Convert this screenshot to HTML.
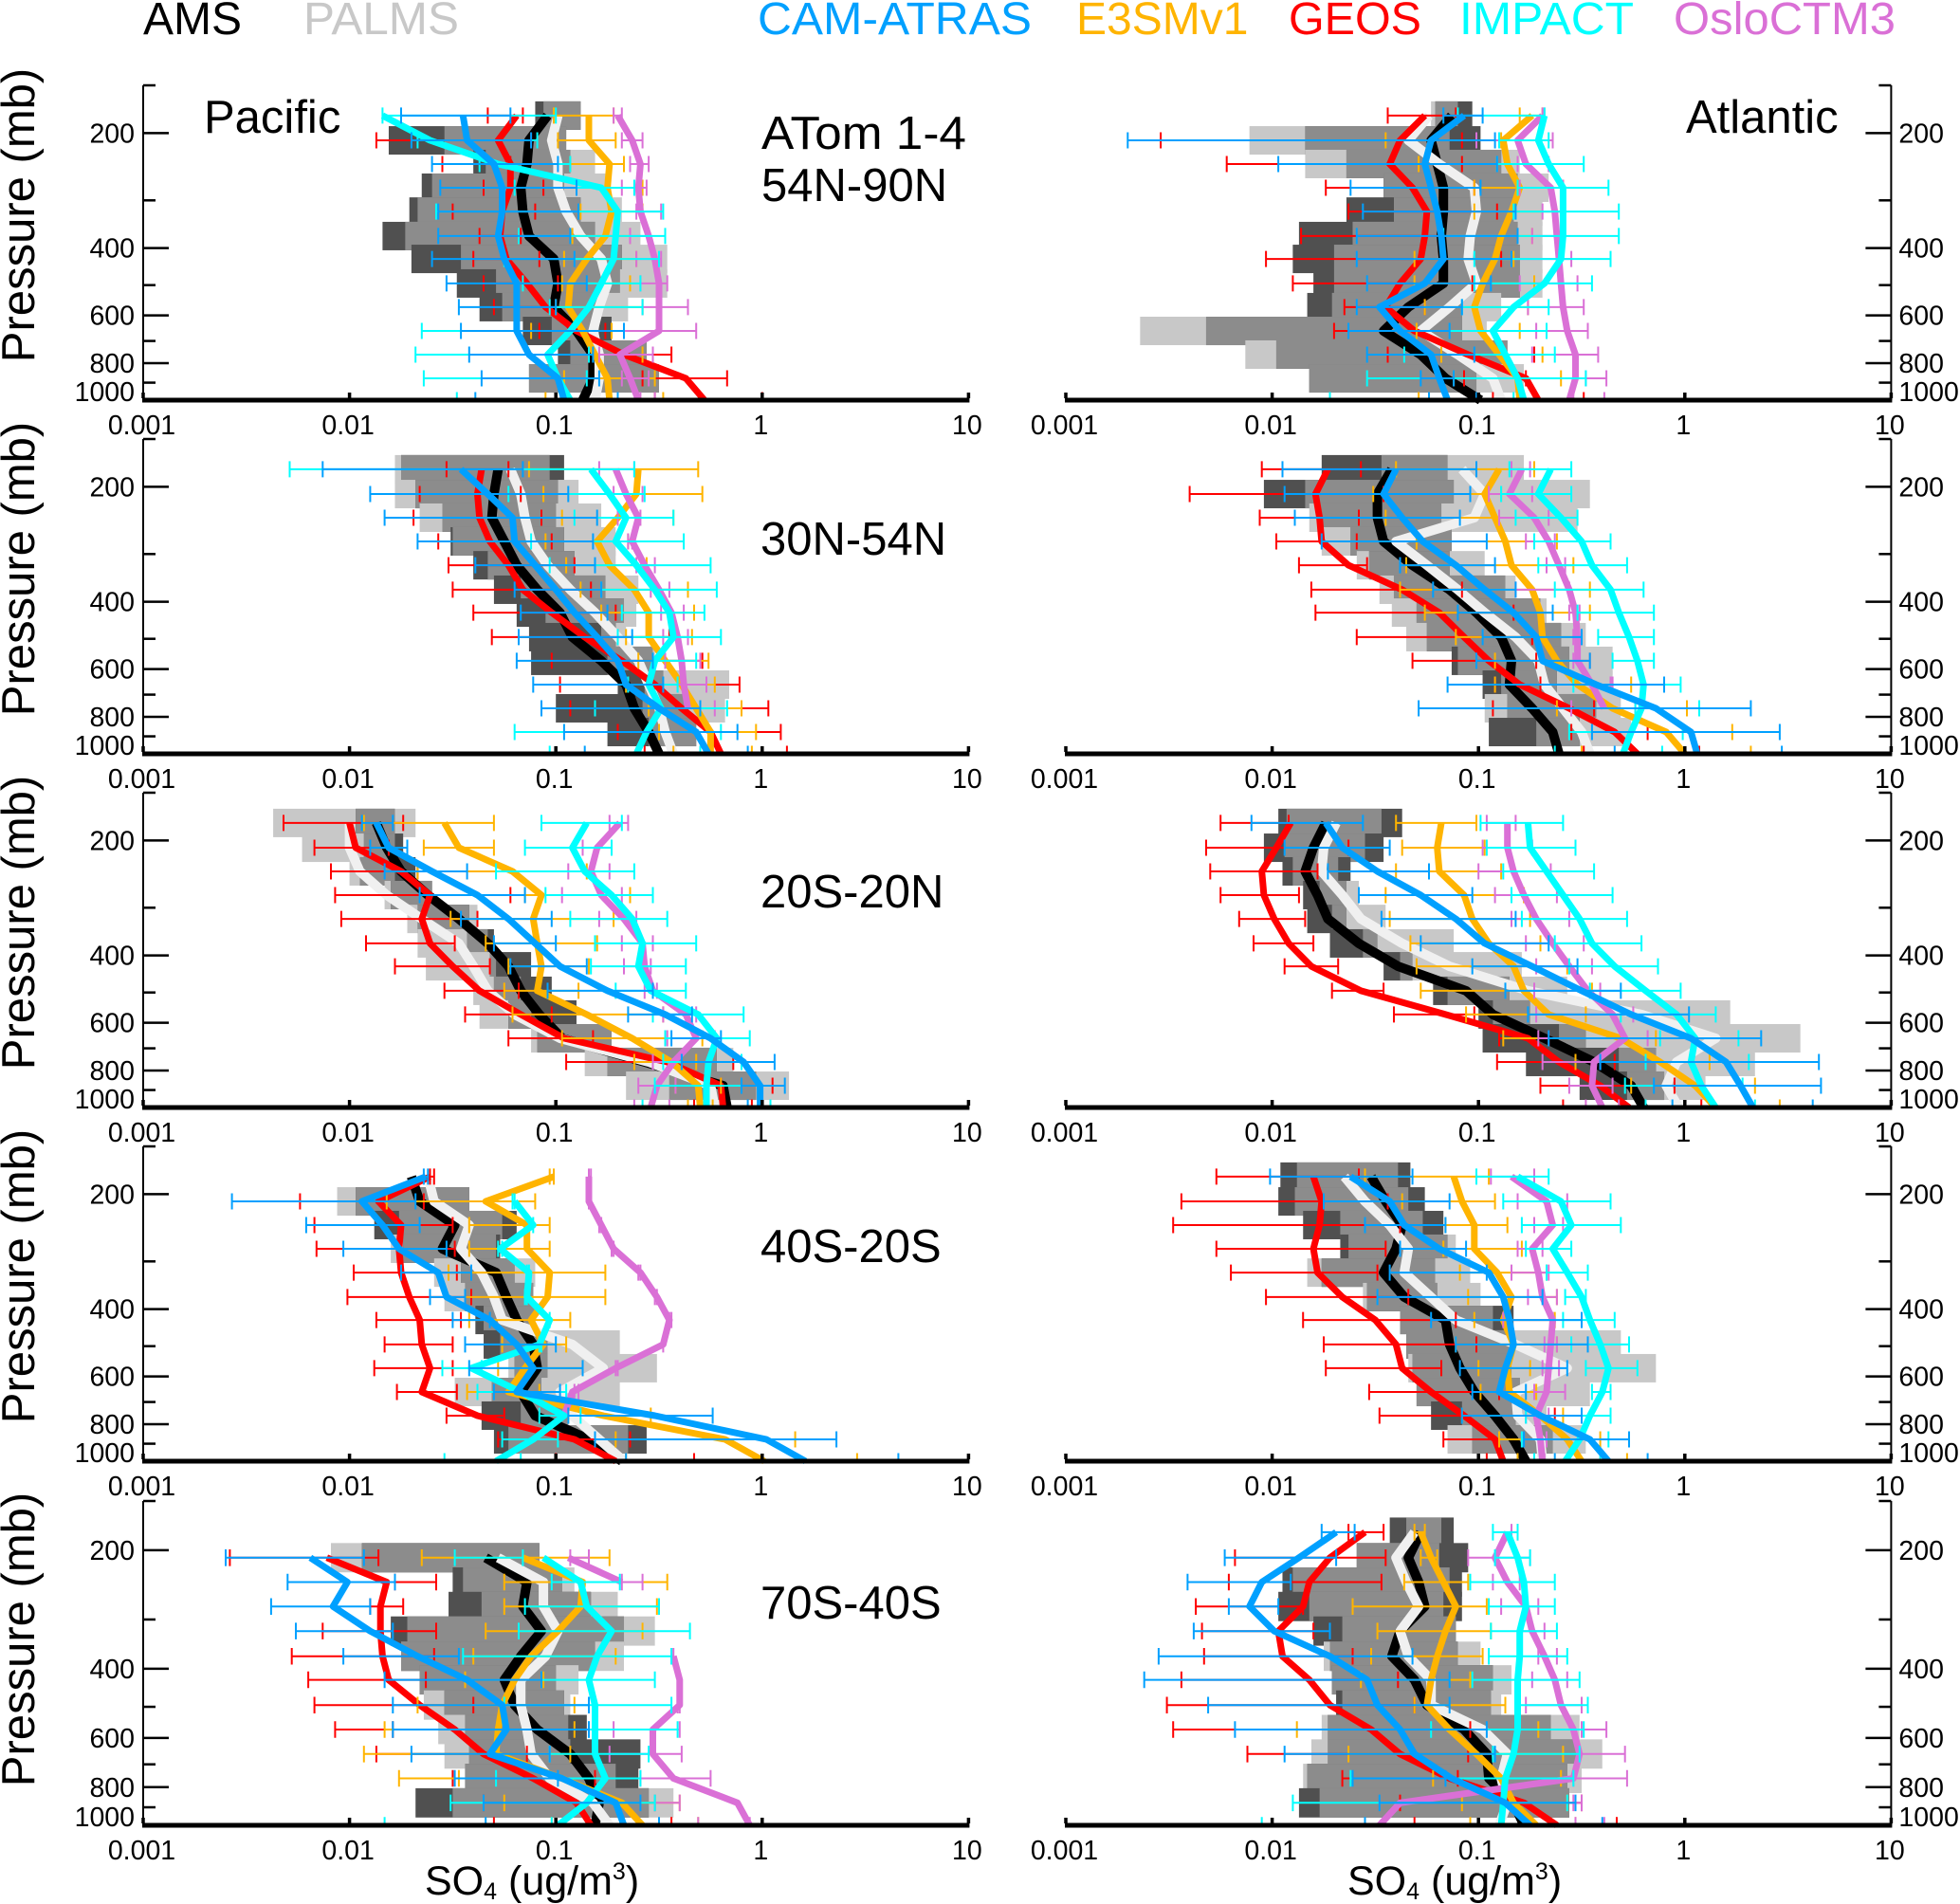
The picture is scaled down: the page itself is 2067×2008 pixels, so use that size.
<!DOCTYPE html>
<html lang="en">
<head>
<meta charset="utf-8">
<title>SO4 vertical profiles</title>
<style>
html,body{margin:0;padding:0;background:#fff;}
svg{display:block;font-family:"Liberation Sans",Arial,sans-serif;}
</style>
</head>
<body>
<svg id="chart" xmlns="http://www.w3.org/2000/svg" width="2067" height="2008" viewBox="0 0 2067 2008">
<rect width="2067" height="2008" fill="#fff"/>
<g id="plots"></g>
<g font-size="48">
<text x="151" y="36" fill="#000">AMS</text>
<text x="320" y="36" fill="#c8c8c8" textLength="164" lengthAdjust="spacingAndGlyphs">PALMS</text>
<text x="799" y="36" fill="#00a0ff" textLength="289" lengthAdjust="spacingAndGlyphs">CAM-ATRAS</text>
<text x="1135" y="36" fill="#ffb400">E3SMv1</text>
<text x="1359" y="36" fill="#ff0000" textLength="140" lengthAdjust="spacingAndGlyphs">GEOS</text>
<text x="1539" y="36" fill="#00ffff" textLength="184" lengthAdjust="spacingAndGlyphs">IMPACT</text>
<text x="1765" y="36" fill="#da70d6" textLength="234" lengthAdjust="spacingAndGlyphs">OsloCTM3</text>
</g>
<g font-size="49" fill="#000">
<text x="215" y="140">Pacific</text>
<text x="1778" y="140">Atlantic</text>
<text x="803" y="157" textLength="216" lengthAdjust="spacingAndGlyphs">ATom 1-4</text>
<text x="803" y="212">54N-90N</text>
<text x="802" y="585">30N-54N</text>
<text x="802" y="957">20S-20N</text>
<text x="802" y="1331">40S-20S</text>
<text x="802" y="1707">70S-40S</text>
</g>
<g font-size="43" fill="#000">
<text x="448" y="1998">SO<tspan font-size="25" dy="5">4</tspan><tspan dy="-5"> (ug/m</tspan><tspan font-size="25" dy="-16">3</tspan><tspan dy="16">)</tspan></text>
<text x="1421" y="1998">SO<tspan font-size="25" dy="5">4</tspan><tspan dy="-5"> (ug/m</tspan><tspan font-size="25" dy="-16">3</tspan><tspan dy="16">)</tspan></text>
</g>
</svg>
<script>
// All concentrations are log10(SO4 in ug/m3), listed from the highest-altitude level to the surface.
var pressureLevels=[180,209,241,278,321,372,427,495,571,659,760,877,1000];
var xTickValues=[0.001,0.01,0.1,1,10];
var xTickLabels=["0.001","0.01","0.1","1","10"];
var yMajorTicks=[200,400,600,800];
var yMinorTicks=[150,300,500,700,900];
var yTickLabels=["200","400","600","800","1000"];

// Pacific 54N-90N
var pac1_ams=[-1.04,-1.13,-1.14,-1.17,-1.16,-1.13,-1.01,-.99,-1.01,-.90,-.82,-.82,-.87];
var pac1_palms=[-.99,-1.02,-.99,-.99,-.95,-.88,-.78,-.75,-.79,-.82,-.79,-.79,-.81];
var pac1_cam=[-1.45,-1.43,-1.30,-1.26,-1.26,-1.28,-1.25,-1.19,-1.19,-1.19,-1.13,-.99,-.96];
var pac1_e3sm=[-.84,-.84,-.74,-.75,-.73,-.76,-.85,-.93,-.94,-.87,-.81,-.75,-.74];
var pac1_geos=[-1.19,-1.28,-1.22,-1.22,-1.26,-1.27,-1.24,-1.14,-1.05,-.90,-.67,-.37,-.28];
var pac1_impact=[-1.84,-1.61,-1.28,-.78,-.70,-.71,-.72,-.78,-.84,-.93,-1.04,-.99,-.93];
var pac1_oslo=[-.70,-.63,-.59,-.60,-.59,-.55,-.52,-.50,-.50,-.50,-.69,-.64,-.60];
var pac1_amsLo=[-1.10,-1.81,-1.40,-1.65,-1.71,-1.84,-1.70,-1.48,-1.37,-1.16,-.99,-1.13];
var pac1_amsHi=[-.88,-.95,-.93,-.96,-.88,-.81,-.68,-.69,-.78,-.73,-.56,-.50];
var pac1_palmsLo=[-1.06,-1.54,-1.34,-1.60,-1.67,-1.73,-1.46,-1.29,-1.26,-1.02,-.93,-1.13];
var pac1_palmsHi=[-.88,-.95,-.81,-.76,-.68,-.59,-.46,-.46,-.65,-.79,-.56,-.50];
var pac1_camLo=[-1.75,-1.70,-1.60,-1.56,-1.57,-1.57,-1.60,-1.53,-1.47,-1.46,-1.42,-1.36,-1.39];
var pac1_camHi=[-1.22,-1.12,-.99,-.90,-.89,-.93,-.91,-.85,-1.0,-.67,-.82,-.79,-.70];
var pac1_e3smLo=[-1.01,-.99,-.93,-.90,-.88,-.92,-.96,-.97,-1.0,-1.12,-.84,-.96,-1.05];
var pac1_e3smHi=[-.72,-.71,-.67,-.58,-.58,-.64,-.61,-.64,-.58,-.73,-.58,-.52,-.48];
var pac1_geosLo=[-1.33,-1.87,-1.55,-1.35,-1.50,-1.37,-1.40,-1.35,-1.30,-1.08,-.84,-.58,-.52];
var pac1_geosHi=[-1.16,-1.12,-1.22,-1.06,-1.10,-1.17,-1.08,-.99,-1.03,-.76,-.44,-.17,0];
var pac1_impactLo=[-1.84,-1.67,-1.37,-1.20,-1.58,-1.18,-1.25,-1.16,-1.03,-1.65,-1.68,-1.64,-1.48];
var pac1_impactHi=[-1.0,-1.09,-.93,-.62,-.48,-.47,-.50,-.59,-.58,-.67,-.84,-.85,-.94];
var pac1_osloLo=[-.72,-.68,-.64,-.68,-.61,-.64,-.61,-.59,-.58,-.67,-.79,-.68,-.59];
var pac1_osloHi=[-.68,-.58,-.55,-.56,-.49,-.55,-.49,-.46,-.36,-.32,-.53,-.55,-.52];

// Atlantic 54N-90N
var atl1_ams=[-1.13,-1.23,-1.20,-1.17,-1.17,-1.18,-1.17,-1.17,-1.34,-1.46,-1.28,-1.16,-.99];
var atl1_palms=[-1.24,-1.34,-1.19,-1.02,-1.01,-1.04,-1.05,-1.01,-1.14,-1.28,-1.10,-.93,-.89];
var atl1_cam=[-1.07,-1.23,-1.26,-1.23,-1.20,-1.18,-1.17,-1.26,-1.48,-1.38,-1.23,-1.19,-1.15];
var atl1_e3sm=[-.74,-.88,-.86,-.80,-.84,-.89,-.92,-.98,-1.02,-.99,-.90,-.81,-.80];
var atl1_geos=[-1.26,-1.38,-1.43,-1.32,-1.25,-1.26,-1.28,-1.38,-1.45,-1.31,-1.05,-.77,-.71];
var atl1_impact=[-.68,-.71,-.66,-.59,-.59,-.59,-.60,-.68,-.83,-.93,-.87,-.81,-.78];
var atl1_oslo=[-.69,-.81,-.77,-.65,-.63,-.62,-.61,-.60,-.59,-.57,-.53,-.53,-.56];
var atl1_amsLo=[-1.21,-1.84,-1.64,-1.46,-1.64,-1.87,-1.90,-1.80,-1.83,-2.32,-1.98,-1.82];
var atl1_amsHi=[-1.03,-.99,-.89,-.81,-.83,-.81,-.80,-.80,-1.08,-1.08,-.86,-1.01];
var atl1_palmsLo=[-1.23,-2.11,-1.84,-1.46,-1.41,-1.61,-1.70,-1.70,-1.71,-2.64,-2.13,-1.82];
var atl1_palmsHi=[-1.10,-1.14,-.80,-.66,-.69,-.69,-.69,-.69,-.89,-.96,-.86,-.78];
var atl1_camLo=[-1.17,-2.70,-1.97,-1.62,-1.56,-1.59,-1.59,-1.54,-1.59,-1.63,-1.54,-1.28,-1.24];
var atl1_camHi=[-.98,-.92,-.91,-.99,-.82,-.81,-.84,-.94,-1.08,-1.14,-1.02,-1.12,-1.01];
var atl1_e3smLo=[-.80,-1.45,-1.29,-1.02,-1.02,-.81,-1.31,-1.31,-1.26,-1.30,-1.18,-1.12,-1.29];
var atl1_e3smHi=[-.69,-.89,-.81,-.59,-.60,-.74,-.83,-.73,-.76,-.80,-.69,-.60,-.80];
var atl1_geosLo=[-1.44,-2.54,-2.22,-1.74,-1.63,-1.86,-2.03,-1.90,-1.65,-1.70,-1.44,-1.07,-.93];
var atl1_geosHi=[-1.11,-1.08,-1.08,-1.02,-.91,-1.18,-.89,-1.03,-1.26,-1.14,-.73,-.77,-.49];
var atl1_impactLo=[-1.10,-.90,-.91,-.81,-.83,-1.17,-1.02,-1.02,-1.08,-1.14,-1.36,-1.54,-1.72];
var atl1_impactHi=[-.68,-.66,-.49,-.37,-.32,-.32,-.36,-.45,-.66,-.67,-.63,-.48,-.83];
var atl1_osloLo=[-.69,-1.01,-.81,-.80,-.69,-.74,-.84,-.80,-.76,-.72,-.74,-.48,-.54];
var atl1_osloHi=[-.68,-.64,-.66,-.59,-.60,-.59,-.55,-.52,-.49,-.47,-.42,-.38,-.39];

// Pacific 30N-54N
var pac2_ams=[-1.28,-1.30,-1.31,-1.25,-1.19,-1.09,-.98,-.92,-.78,-.66,-.62,-.55,-.50];
var pac2_palms=[-1.22,-1.17,-1.15,-1.12,-1.04,-.93,-.81,-.70,-.60,-.55,-.50,-.47,-.43];
var pac2_cam=[-1.46,-1.33,-1.21,-1.20,-1.10,-1.0,-.91,-.80,-.70,-.66,-.50,-.32,-.26];
var pac2_e3sm=[-.60,-.61,-.70,-.80,-.74,-.62,-.55,-.55,-.47,-.39,-.32,-.25,-.25];
var pac2_geos=[-1.36,-1.38,-1.37,-1.32,-1.23,-1.16,-1.02,-.86,-.68,-.52,-.39,-.25,-.20];
var pac2_impact=[-.83,-.74,-.66,-.71,-.61,-.52,-.45,-.43,-.52,-.55,-.49,-.56,-.61];
var pac2_oslo=[-.71,-.66,-.60,-.63,-.57,-.50,-.44,-.41,-.39,-.38,-.36,null,null];
var pac2_amsLo=[-1.75,-1.68,-1.55,-1.51,-1.40,-1.30,-1.19,-1.13,-1.12,-.70,-1.0,-.75];
var pac2_amsHi=[-.96,-.99,-1.0,-.96,-.91,-.76,-.67,-.71,-.53,-.48,-.36,-.32];
var pac2_palmsLo=[-1.78,-1.78,-1.66,-1.50,-1.33,-1.17,-1.05,-.78,-.75,-.57,-.58,-.55];
var pac2_palmsHi=[-1.03,-.89,-.78,-.71,-.71,-.60,-.61,-.66,-.52,-.16,-.18,-.32];
var pac2_camLo=[-2.13,-1.90,-1.83,-1.67,-1.39,-1.20,-1.17,-1.18,-1.19,-1.11,-1.07,-.96,-.86];
var pac2_camHi=[-1.16,-.94,-.80,-.82,-.81,-.78,-.75,-.63,-.53,-.48,-.30,-.12,-.07];
var pac2_e3smLo=[-1.13,-1.06,-.97,-1.05,-.95,-.88,-.78,-.66,-.60,-.66,-.55,-.50,-.43];
var pac2_e3smHi=[-.31,-.29,-.43,-.65,-.56,-.36,-.33,-.34,-.26,-.23,-.10,-.03,-.05];
var pac2_geosLo=[-1.53,-1.66,-1.69,-1.57,-1.52,-1.50,-1.40,-1.31,-1.02,-.98,-.93,-.70,-.57];
var pac2_geosHi=[-1.23,-1.17,-1.07,-1.02,-.91,-.83,-.71,-.45,-.29,-.11,.03,.09,.12];
var pac2_impactLo=[-2.29,-1.23,-.91,-1.12,-1.03,-.78,-.68,-.70,-.53,-.65,-.81,-1.20,-1.03];
var pac2_impactHi=[-.62,-.57,-.43,-.38,-.25,-.22,-.28,-.20,-.32,-.41,-.17,-.20,-.30];
var pac2_osloLo=[-.79,-.72,-.70,-.65,-.61,-.54,-.49,-.48,-.47,-.41,-.30,null,null];
var pac2_osloHi=[-.62,-.58,-.59,-.63,-.52,-.45,-.38,-.36,-.30,-.27,-.23,null,null];

// Atlantic 30N-54N
var atl2_ams=[-1.42,-1.49,-1.49,-1.46,-1.32,-1.14,-1.01,-.89,-.84,-.85,-.74,-.64,-.61];
var atl2_palms=[-1.08,-.97,-1.02,-1.40,-1.25,-1.10,-.97,-.82,-.71,-.68,-.59,-.50,-.46];
var atl2_cam=[-1.40,-1.46,-1.37,-1.27,-1.11,-.97,-.83,-.72,-.69,-.43,-.14,.03,.06];
var atl2_e3sm=[-.90,-.97,-.92,-.87,-.84,-.74,-.70,-.69,-.62,-.52,-.35,-.09,0];
var atl2_geos=[-1.73,-1.79,-1.77,-1.76,-1.63,-1.37,-1.19,-1.07,-.95,-.80,-.56,-.34,-.23];
var atl2_impact=[-.65,-.71,-.60,-.50,-.45,-.36,-.32,-.27,-.23,-.20,-.21,-.26,-.30];
var atl2_oslo=[-.79,-.85,-.73,-.66,-.61,-.56,-.53,-.52,-.52,-.45,-.39,null,null];
var atl2_amsLo=[-1.76,-2.04,-1.77,-1.62,-1.53,-1.41,-1.30,-1.25,-1.13,-.98,-.86,-.95];
var atl2_amsHi=[-1.15,-1.12,-1.18,-1.13,-1.14,-.87,-.70,-.60,-.56,-.62,-.43,-.51];
var atl2_palmsLo=[-1.47,-1.84,-1.82,-1.76,-1.59,-1.48,-1.42,-1.35,-1.10,-.89,-.97,-.72];
var atl2_palmsHi=[-.78,-.46,-.52,-1.13,-.97,-.82,-.67,-.48,-.35,-.35,-.31,-.26];
var atl2_camLo=[-1.95,-1.94,-1.89,-1.76,-1.38,-1.22,-1.10,-.98,-1.01,-1.15,-1.29,-.45,-.34];
var atl2_camHi=[-1.01,-1.04,-1.09,-.96,-.92,-.82,-.64,-.50,-.46,-.10,.32,.46,.47];
var atl2_e3smLo=[-1.40,-1.51,-1.45,-1.30,-1.35,-1.38,-1.26,-1.11,-.92,-.92,-.62,-.56,-.50];
var atl2_e3smHi=[-.73,-.89,-.90,-.62,-.54,-.46,-.46,-.50,-.46,-.26,.01,.23,.32];
var atl2_geosLo=[-2.05,-2.40,-2.06,-1.98,-1.87,-1.81,-1.79,-1.59,-1.32,-.92,-.93,-.55,-.49];
var atl2_geosHi=[-1.57,-1.46,-1.58,-1.59,-1.54,-1.08,-.83,-.74,-.72,-.70,-.44,-.18,.07];
var atl2_impactLo=[-.85,-.89,-.82,-.73,-.71,-.63,-.52,-.42,-.35,-.54,-.24,-.56,-.63];
var atl2_impactHi=[-.55,-.55,-.52,-.36,-.28,-.20,-.15,-.15,-.15,-.02,.07,-.01,-.11];
var atl2_osloLo=[-.84,-.95,-.90,-.77,-.67,-.82,-.56,-.54,-.54,-.36,-.55,null,null];
var atl2_osloHi=[-.75,-.74,-.66,-.63,-.58,-.56,-.51,-.50,-.46,-.35,-.24,null,null];

// Pacific 20S-20N
var pac3_ams=[-1.87,-1.82,-1.75,-1.62,-1.47,-1.33,-1.23,-1.17,-1.08,-.97,-.57,-.19,-.17];
var pac3_palms=[-2.0,-2.0,-1.95,-1.82,-1.65,-1.47,-1.40,-1.33,-1.20,-.98,-.55,-.25,-.23];
var pac3_cam=[-1.87,-1.81,-1.60,-1.38,-1.23,-1.10,-.98,-.75,-.47,-.25,-.09,-.01,-.01];
var pac3_e3sm=[-1.54,-1.47,-1.21,-1.07,-1.11,-1.09,-1.07,-1.09,-.85,-.63,-.44,-.31,-.30];
var pac3_geos=[-2.0,-1.97,-1.75,-1.61,-1.65,-1.61,-1.50,-1.37,-1.17,-.96,-.46,-.20,-.19];
var pac3_impact=[-.85,-.92,-.86,-.73,-.63,-.58,-.60,-.54,-.31,-.22,-.26,-.27,-.27];
var pac3_oslo=[-.69,-.80,-.83,-.78,-.67,-.58,-.57,-.53,-.37,-.32,-.43,-.51,-.54];
var pac3_amsLo=[-1.97,-1.93,-1.95,-1.80,-1.67,-1.43,-1.32,-1.30,-1.23,-1.09,-.75,-.45];
var pac3_amsHi=[-1.78,-1.74,-1.68,-1.60,-1.42,-1.30,-1.12,-1.02,-.90,-.73,-.22,-.03];
var pac3_palmsLo=[-2.37,-2.23,-2.0,-1.83,-1.72,-1.67,-1.63,-1.40,-1.37,-1.12,-.86,-.66];
var pac3_palmsHi=[-1.68,-1.78,-1.78,-1.60,-1.38,-1.33,-1.29,-1.17,-1.12,-.73,-.14,.13];
var pac3_camLo=[-1.94,-1.90,-1.83,-1.66,-1.46,-1.30,-1.22,-1.04,-.65,-.44,-.39,-.10,-.07];
var pac3_camHi=[-1.79,-1.72,-1.43,-1.15,-1.02,-1.0,-.85,-.53,-.34,-.20,.06,.11,0];
var pac3_e3smLo=[-1.93,-1.64,-1.67,-1.15,-1.51,-1.34,-1.23,-1.25,-1.21,-.97,-.62,-.42,-.36];
var pac3_e3smHi=[-1.30,-1.30,-.85,-.64,-.72,-.80,-.84,-.89,-.48,-.29,-.32,-.20,-.24];
var pac3_geosLo=[-2.32,-2.17,-2.09,-2.07,-2.04,-1.92,-1.78,-1.54,-1.44,-1.23,-.95,-.20,-.33];
var pac3_geosHi=[-1.74,-1.81,-1.67,-1.22,-1.38,-1.49,-1.32,-1.18,-1.02,-.82,-.14,.05,-.05];
var pac3_impactLo=[-1.07,-1.15,-1.29,-1.05,-.93,-.81,-.83,-.71,-.53,-.47,-.48,-.52,-.58];
var pac3_impactHi=[-.68,-.73,-.62,-.53,-.46,-.32,-.37,-.37,-.09,-.06,-.10,-.02,.04];
var pac3_osloLo=[-.74,-.87,-.94,-.97,-.79,-.68,-.67,-.57,-.48,-.46,-.53,-.60,-.62];
var pac3_osloHi=[-.65,-.73,-.74,-.68,-.61,-.53,-.54,-.51,-.32,-.23,-.39,-.42,-.45];

// Atlantic 20S-20N
var atl3_ams=[-1.74,-1.80,-1.84,-1.78,-1.73,-1.58,-1.39,-1.06,-.93,-.68,-.44,-.26,-.20];
var atl3_palms=[-1.69,-1.75,-1.76,-1.66,-1.57,-1.37,-1.14,-.76,-.21,.15,-.04,-.09,-.03];
var atl3_cam=[-1.74,-1.66,-1.49,-1.28,-1.11,-.97,-.74,-.50,-.26,.03,.20,.27,.33];
var atl3_e3sm=[-1.18,-1.20,-1.19,-1.07,-1.03,-.95,-.83,-.78,-.66,-.31,-.12,.05,.15];
var atl3_geos=[-1.91,-1.98,-2.05,-2.04,-1.99,-1.92,-1.81,-1.57,-1.16,-.76,-.61,-.41,-.27];
var atl3_impact=[-.76,-.75,-.67,-.59,-.51,-.45,-.34,-.19,-.04,.05,.03,.08,.15];
var atl3_oslo=[-.86,-.86,-.83,-.78,-.72,-.64,-.56,-.47,-.35,-.29,-.44,-.45,-.40];
var atl3_amsLo=[-1.97,-2.04,-1.95,-1.85,-1.83,-1.72,-1.46,-1.22,-1.0,-.98,-.77,-.51];
var atl3_amsHi=[-1.37,-1.46,-1.62,-1.64,-1.64,-1.49,-1.32,-.85,-.75,-.48,-.14,-.10];
var atl3_palmsLo=[-1.93,-1.94,-1.90,-1.77,-1.71,-1.56,-1.38,-1.15,-.93,-.61,-.32,-.28];
var atl3_palmsHi=[-1.47,-1.55,-1.68,-1.58,-1.45,-1.12,-.79,-.57,.22,.56,.34,.10];
var atl3_camLo=[-2.10,-1.94,-1.73,-1.58,-1.47,-1.28,-1.03,-.87,-.76,-.66,-.41,-.15,-.06];
var atl3_camHi=[-1.56,-1.43,-1.24,-1.03,-.82,-.66,-.52,-.31,.02,.37,.65,.66,.62];
var atl3_e3smLo=[-1.40,-1.37,-1.40,-1.45,-1.43,-1.33,-1.30,-1.28,-1.06,-.88,-.53,-.26,-.19];
var atl3_e3smHi=[-1.01,-.97,-.89,-.78,-.75,-.70,-.57,-.45,-.48,-.14,.12,.34,.46];
var atl3_geosLo=[-2.25,-2.32,-2.30,-2.25,-2.16,-2.09,-1.94,-1.71,-1.41,-.90,-.91,-.70,-.59];
var atl3_geosHi=[-1.92,-1.63,-1.78,-1.87,-1.84,-1.80,-1.68,-1.46,-1.02,-.66,-.34,-.05,.08];
var atl3_impactLo=[-.99,-.96,-.88,-.84,-.79,-.63,-.56,-.46,-.31,-.12,-.19,-.29,-.19];
var atl3_impactHi=[-.59,-.53,-.44,-.35,-.28,-.21,-.13,-.02,.15,.26,.31,.28,.34];
var atl3_osloLo=[-.96,-.98,-1.0,-.92,-.84,-.77,-.72,-.73,-.72,-.71,-.69,-.56,-.48];
var atl3_osloHi=[-.82,-.74,-.65,-.62,-.56,-.49,-.45,-.41,-.25,-.18,-.41,-.35,-.32];

// Pacific 40S-20S
var pac4_ams=[-1.70,-1.66,-1.49,-1.55,-1.29,-1.24,-1.19,-1.11,-1.09,-1.17,-1.10,-.84,-.68];
var pac4_palms=[-1.62,-1.59,-1.42,-1.46,-1.36,-1.30,-1.26,-.92,-.77,-.98,-.92,-.79,-.67];
var pac4_cam=[-1.63,-1.94,-1.84,-1.76,-1.57,-1.53,-1.32,-1.19,-1.11,-1.19,-.52,.02,.21];
var pac4_e3sm=[-1.01,-1.34,-1.14,-1.14,-1.03,-1.04,-1.12,-1.06,-1.15,-1.23,-.77,-.18,.01];
var pac4_geos=[-1.61,-1.86,-1.75,-1.76,-1.75,-1.71,-1.66,-1.65,-1.61,-1.65,-1.38,-.91,-.71];
var pac4_impact=[null,-1.20,-1.11,-1.27,-1.13,-1.14,-1.03,-1.08,-1.41,-1.17,-.96,-1.11,-1.29];
var pac4_oslo=[-.84,-.84,-.78,-.72,-.59,-.51,-.45,-.48,-.71,-.92,-.96,null,null];
var pac4_amsLo=[null,-1.97,-1.88,-1.74,-1.46,-1.44,-1.39,-1.35,-1.20,-1.31,-1.36,-1.30];
var pac4_amsHi=[null,-1.42,-1.19,-1.27,-1.20,-1.11,-1.10,-1.04,-1.04,-1.07,-.94,-.56];
var pac4_palmsLo=[null,-2.06,-1.76,-1.80,-1.59,-1.54,-1.35,-1.27,-1.23,-1.49,-1.17,-1.23];
var pac4_palmsHi=[null,-1.42,-1.26,-1.29,-1.10,-1.11,-1.10,-.69,-.51,-.69,-.94,-.65];
var pac4_camLo=[-1.64,-2.57,-2.21,-2.03,-1.75,-1.61,-1.50,-1.44,-1.42,-1.30,-.94,-.81,-.66];
var pac4_camHi=[-1.62,-1.68,-1.66,-1.53,-1.41,-1.44,-1.32,-1.0,-.87,-.98,-.24,.36,.66];
var pac4_e3smLo=[-1.03,-1.82,-1.42,-1.42,-1.52,-1.44,-1.42,-1.26,-1.28,-1.43,-.94,-.71,-.66];
var pac4_e3smHi=[-1.01,-1.10,-1.03,-1.03,-.76,-.76,-.93,-.95,-.87,-1.08,-.54,.16,.46];
var pac4_geosLo=[-1.61,-2.24,-2.17,-2.16,-1.98,-2.01,-1.87,-1.83,-1.88,-1.77,-1.53,-1.28,-1.0];
var pac4_geosHi=[-1.59,-1.64,-1.50,-1.49,-1.48,-1.41,-1.46,-1.50,-1.50,-1.48,-1.25,-.64,-.33];
var pac4_impactLo=[null,-1.21,-1.11,-1.28,-1.14,-1.15,-1.03,-1.08,-1.55,-1.38,-1.08,-1.26,-1.54];
var pac4_impactHi=[null,-1.20,-1.11,-1.26,-1.13,-1.14,-1.03,-1.07,-1.36,-.95,-.88,-.99,-1.17];
var pac4_osloLo=[-.84,-.84,-.79,-.73,-.60,-.52,-.45,-.48,-.71,-.91,null,null,null];
var pac4_osloHi=[-.83,-.83,-.78,-.72,-.59,-.51,-.44,-.48,-.70,-.89,null,null,null];

// Atlantic 40S-20S
var atl4_ams=[-1.52,-1.45,-1.37,-1.40,-1.46,-1.36,-1.16,-1.14,-1.09,-1.02,-.92,-.83,-.77];
var atl4_palms=[-1.65,-1.55,-1.43,-1.34,-1.36,-1.23,-1.11,-.82,-.57,-.82,-.81,-.70,-.69];
var atl4_cam=[-1.62,-1.43,-1.36,-1.19,-.95,-.88,-.85,-.83,-.87,-.90,-.70,-.46,-.37];
var atl4_e3sm=[-1.12,-1.08,-1.02,-1.02,-.91,-.84,-.88,-.83,-.86,-.85,-.70,-.57,-.50];
var atl4_geos=[-1.80,-1.76,-1.77,-1.80,-1.78,-1.66,-1.50,-1.40,-1.37,-1.23,-1.07,-.92,-.88];
var atl4_impact=[-.81,-.60,-.55,-.64,-.57,-.50,-.46,-.41,-.37,-.40,-.46,-.51,-.58];
var atl4_oslo=[-.84,-.67,-.64,-.74,-.71,-.69,-.64,-.65,-.66,-.67,-.72,-.70,-.69];
var atl4_amsLo=[-1.96,-1.97,-1.85,-1.67,-1.76,-1.54,-1.38,-1.35,-1.32,-1.30,-1.23,-1.03];
var atl4_amsHi=[-1.33,-1.26,-1.17,-1.15,-1.21,-1.20,-.83,-.83,-.84,-.80,-.82,-.64];
var atl4_palmsLo=[-1.88,-1.89,-1.67,-1.63,-1.83,-1.56,-1.38,-1.35,-1.34,-1.30,-1.08,-1.15];
var atl4_palmsHi=[-1.39,-1.34,-1.27,-1.11,-1.04,-.99,-.93,-.31,-.14,-.46,-.67,-.48];
var atl4_camLo=[-2.01,-1.75,-1.55,-1.38,-1.43,-1.49,-1.23,-1.11,-1.09,-1.03,-1.08,-.78,-.63];
var atl4_camHi=[-1.32,-1.14,-1.16,-1.06,-.96,-.69,-.50,-.47,-.57,-.77,-.50,-.27,-.18];
var atl4_e3smLo=[-1.55,-1.37,-1.16,-1.17,-1.09,-1.05,-1.02,-1.11,-1.0,-.99,-1.08,-.90,-.81];
var atl4_e3smHi=[-.95,-.92,-.86,-.79,-.67,-.62,-.63,-.62,-.75,-.72,-.59,-.41,-.28];
var atl4_geosLo=[-2.27,-2.44,-2.48,-2.27,-2.20,-2.03,-1.85,-1.75,-1.74,-1.53,-1.48,-1.17,-.96];
var atl4_geosHi=[-1.58,-1.44,-1.38,-1.45,-1.49,-1.34,-1.11,-1.01,-1.18,-.90,-.63,-.67,-.73];
var atl4_impactLo=[-1.01,-.88,-.79,-.77,-.67,-.58,-.59,-.55,-.48,-.45,-.77,-.79,-.73];
var atl4_impactHi=[-.66,-.36,-.31,-.55,-.47,-.48,-.34,-.27,-.23,-.36,-.36,-.37,-.41];
var atl4_osloLo=[-.94,-.81,-.73,-.81,-.84,-.76,-.88,-.68,-.69,-.73,-.77,-.79,-.73];
var atl4_osloHi=[-.73,-.57,-.59,-.69,-.66,-.62,-.64,-.62,-.61,-.58,-.66,-.67,-.68];

// Pacific 70S-40S
var pac5_ams=[null,-1.34,-1.14,-1.16,-1.07,-1.17,-1.25,-1.20,-1.09,-.93,-.84,-.79,-.81];
var pac5_palms=[null,-1.28,-1.06,-1.06,-.99,-1.05,-1.17,-1.17,-1.14,-1.12,-1.03,-.82,-.74];
var pac5_cam=[null,-2.19,-2.01,-2.08,-1.90,-1.67,-1.43,-1.26,-1.24,-1.32,-.97,-.71,-.67];
var pac5_e3sm=[null,-1.16,-.87,-.88,-.99,-1.12,-1.20,-1.26,-1.28,-1.29,-.97,-.68,-.58];
var pac5_geos=[null,-2.11,-1.82,-1.85,-1.85,-1.84,-1.81,-1.66,-1.49,-1.35,-1.11,-.90,-.83];
var pac5_impact=[null,-1.06,-.88,-.85,-.73,-.80,-.84,-.81,-.81,-.81,-.76,-.85,-.99];
var pac5_oslo=[null,-.94,-.68,null,null,-.43,-.40,-.40,-.53,-.53,-.43,-.12,-.06];
var pac5_amsLo=[null,-1.94,-1.50,-1.52,-1.80,-1.75,-1.66,-1.54,-1.44,-1.42,-1.44,-1.68];
var pac5_amsHi=[null,-1.08,-.97,-.83,-.67,-.81,-1.0,-.96,-.85,-.59,-.60,-.55];
var pac5_palmsLo=[null,-2.09,-1.45,-1.36,-1.72,-1.75,-1.66,-1.64,-1.57,-1.54,-1.44,-1.50];
var pac5_palmsHi=[null,-1.08,-.91,-.70,-.52,-.67,-.89,-.93,-.94,-.93,-.71,-.43];
var pac5_camLo=[null,-2.60,-2.30,-2.38,-2.26,-2.03,-1.83,-1.79,-1.79,-1.70,-1.49,-1.35,-1.34];
var pac5_camHi=[null,-1.93,-1.78,-1.90,-1.79,-1.47,-1.07,-.84,-.84,-1.03,-.99,-.59,-.50];
var pac5_e3smLo=[null,-1.65,-1.25,-1.25,-1.34,-1.40,-1.44,-1.67,-1.83,-1.93,-1.76,-1.25,-1.02];
var pac5_e3smHi=[null,-.74,-.46,-.51,-.58,-.71,-1.06,-.91,-.91,-.93,-1.47,-.40,-.31];
var pac5_geosLo=[null,-2.58,-1.78,-1.90,-2.13,-2.28,-2.20,-2.17,-2.07,-1.87,-1.50,-1.35,-1.30];
var pac5_geosHi=[null,-1.86,-1.58,-1.74,-1.58,-1.59,-1.63,-1.40,-1.79,-1.14,-.81,-.52,-.44];
var pac5_impactLo=[null,-1.49,-1.02,-1.15,-1.18,-1.45,-1.07,-1.25,-.84,-1.03,-1.29,-1.51,-1.83];
var pac5_impactHi=[null,-1.16,-.69,-.50,-.35,-.44,-.52,-.44,-.41,-.55,-.59,-.52,-1.02];
var pac5_osloLo=[null,-.93,-.68,null,null,-.44,-.41,-.41,-.72,-.74,-.59,-.52,-.31];
var pac5_osloHi=[null,-.84,-.58,null,null,-.43,-.40,-.40,-.40,-.39,-.25,-.40,-.06];

// Atlantic 70S-40S
var atl5_ams=[-1.28,-1.34,-1.29,-1.26,-1.38,-1.42,-1.31,-1.25,-1.07,-.96,-.95,-.83,-.78];
var atl5_palms=[-1.31,-1.40,-1.35,-1.29,-1.38,-1.34,-1.23,-1.23,-.98,-.86,-.89,-.86,-.90];
var atl5_cam=[-1.69,-1.87,-2.05,-2.11,-1.99,-1.72,-1.54,-1.49,-1.38,-1.31,-1.13,-.87,-.75];
var atl5_e3sm=[-1.28,-1.23,-1.17,-1.11,-1.16,-1.20,-1.23,-1.25,-1.14,-1.01,-.89,-.83,-.72];
var atl5_geos=[-1.55,-1.72,-1.82,-1.85,-1.97,-1.95,-1.82,-1.72,-1.52,-1.38,-1.14,-.78,-.62];
var atl5_impact=[-.86,-.81,-.78,-.77,-.80,-.80,-.81,-.81,-.81,-.83,-.87,-.88,-.89];
var atl5_oslo=[-.86,-.92,-.86,-.77,-.74,-.68,-.63,-.60,-.54,-.51,-.54,-1.38,-1.48];
var atl5_amsLo=[-1.43,-1.59,-1.95,-1.97,-1.80,-1.72,-1.71,-1.69,-1.73,-1.73,-1.83,-1.87];
var atl5_amsHi=[-1.12,-1.05,-1.08,-1.08,-1.11,-1.10,-.93,-.94,-.65,-.52,-.57,-.56];
var atl5_palmsLo=[-1.35,-1.59,-1.90,-1.82,-1.66,-1.75,-1.71,-1.66,-1.76,-1.81,-1.85,-1.77];
var atl5_palmsHi=[-1.18,-1.19,-1.14,-1.17,-1.11,-.99,-.84,-.89,-.51,-.40,-.50,-.56];
var atl5_camLo=[-1.76,-2.23,-2.41,-2.21,-2.38,-2.55,-2.62,-2.31,-2.18,-1.94,-1.61,-1.48,-1.55];
var atl5_camHi=[-1.60,-1.69,-1.91,-1.97,-1.72,-1.32,-1.14,-1.14,-.96,-.92,-1.16,-.53,-.40];
var atl5_e3smLo=[-1.31,-1.28,-1.36,-1.61,-1.49,-1.52,-1.57,-1.31,-1.88,-1.63,-1.22,-1.08,-1.04];
var atl5_e3smHi=[-1.26,-1.20,-1.05,-.96,-.94,-.98,-1.04,-.87,-.71,-.59,-.60,-.57,-.53];
var atl5_geosLo=[-1.63,-2.18,-2.21,-2.37,-2.34,-2.33,-2.44,-2.51,-2.48,-2.12,-1.66,-1.38,-1.31];
var atl5_geosHi=[-1.46,-1.45,-1.47,-1.85,-1.80,-1.61,-1.39,-1.31,-1.04,-1.05,-1.10,-.50,-.33];
var atl5_impactLo=[-.93,-.92,-1.04,-.95,-.94,-.95,-1.03,-.81,-1.23,-.93,-1.62,-1.90,-2.05];
var atl5_impactHi=[-.81,-.75,-.63,-.63,-.62,-.57,-.51,-.47,-.49,-.51,-.54,-.57,-.89];
var atl5_osloLo=[-.84,-1.05,-.93,-.89,-.80,-.71,-.74,-.77,-.50,-.51,-.54,-.54,-.53];
var atl5_osloHi=[-.81,-.75,-.80,-.71,-.68,-.62,-.57,-.50,-.38,-.29,-.28,-.50,-.39];

// Layout (pixels), kept apart from the data above
var SVGNS='http://www.w3.org/2000/svg';
var rowTop=[90,463,836,1209,1583];
var rowBottom=[422,795,1168,1541,1925];
var DECADE=217.6;
var plotsRoot=document.getElementById('plots');

function add(parent,tag){
  var el=document.createElementNS(SVGNS,tag);
  parent.appendChild(el);
  return el;
}
function xScaleLog(left,logv){return left+(logv+3)*DECADE;}
function yScale(row,p){
  var t=rowTop[row],b=rowBottom[row];
  return b-(b-t)*Math.log(1000/p)/Math.log(1000/150);
}
function band(g,left,lo,hi,yc,halfH,fill,name){
  var r=add(g,'rect');
  
  
  var x0=xScaleLog(left,lo),x1=xScaleLog(left,hi);
  r.setAttribute('x',x0);
  r.setAttribute('width',Math.max(0,x1-x0));
  r.setAttribute('y',yc-halfH);
  r.setAttribute('height',halfH*2);
  r.setAttribute('fill',fill);
}
function drawLine(g,left,row,vals,color,width,name){
  var d='',pen=false;
  for(var i=0;i<vals.length;i++){
    if(vals[i]===null){pen=false;continue;}
    d+=(pen?'L':'M')+xScaleLog(left,vals[i]).toFixed(1)+' '+yScale(row,pressureLevels[i]).toFixed(1);
    pen=true;
  }
  var p=add(g,'path');
  
  
  p.setAttribute('d',d);
  p.setAttribute('fill','none');
  p.setAttribute('stroke',color);
  p.setAttribute('stroke-width',width);
  p.setAttribute('stroke-linejoin','round');
}
function drawBars(g,left,row,lo,hi,color,clipId,name){
  var half=8.5*(rowBottom[row]-rowTop[row])/332;
  for(var i=0;i<lo.length;i++){
    if(lo[i]===null||hi[i]===null)continue;
    var y=yScale(row,pressureLevels[i]);
    var a=xScaleLog(left,lo[i]).toFixed(1),b=xScaleLog(left,hi[i]).toFixed(1);
    var d='M'+a+' '+y.toFixed(1)+'H'+b+'M'+a+' '+(y-half).toFixed(1)+'V'+(y+half).toFixed(1)+'M'+b+' '+(y-half).toFixed(1)+'V'+(y+half).toFixed(1);
    var p=add(g,'path');
    
    
    p.setAttribute('d',d);
    p.setAttribute('fill','none');
    p.setAttribute('stroke',color);
    p.setAttribute('stroke-width','2');
    p.setAttribute('clip-path','url(#'+clipId+')');
  }
}
var defs=add(plotsRoot,'defs');
var modelOrder=[['geos','#ff0000'],['e3sm','#ffb400'],['oslo','#da70d6'],['impact','#00ffff'],['cam','#00a0ff']];

function drawPanel(prefix,row,left,isRight){
  var right=xScaleLog(left,1);
  var yAxisX=isRight?right:left;
  var g=add(plotsRoot,'g');
  
  

  var clip=add(defs,'clipPath');
  clip.setAttribute('id','clip-'+prefix);
  var cr=add(clip,'rect');
  cr.setAttribute('x',0);
  cr.setAttribute('width',2067);
  cr.setAttribute('y',rowTop[row]);
  cr.setAttribute('height',rowBottom[row]-rowTop[row]);

  var halfH=15*(rowBottom[row]-rowTop[row])/332;
  var aL=window[prefix+'_amsLo'],aH=window[prefix+'_amsHi'],pL=window[prefix+'_palmsLo'],pH=window[prefix+'_palmsHi'];
  for(var i=0;i<aL.length;i++){
    if(aL[i]===null)continue;
    var yc=yScale(row,pressureLevels[i]);
    band(g,left,pL[i],pH[i],yc,halfH,'#c8c8c8','palms-range-bin');
    band(g,left,aL[i],aH[i],yc,halfH,'#505050','ams-range-bin');
    var iL=Math.max(aL[i],pL[i]),iH=Math.min(aH[i],pH[i]);
    if(iH>iL)band(g,left,iL,iH,yc,halfH,'#8c8c8c','ams-palms-overlap-bin');
  }
  drawLine(g,left,row,window[prefix+'_ams'],'#000000',10,'ams-line');
  drawLine(g,left,row,window[prefix+'_palms'],'#f0f0f0',10,'palms-line');
  for(var m=0;m<modelOrder.length;m++){
    var key=modelOrder[m][0],col=modelOrder[m][1];
    drawBars(g,left,row,window[prefix+'_'+key+'Lo'],window[prefix+'_'+key+'Hi'],col,'clip-'+prefix,key+'-error-bar');
    drawLine(g,left,row,window[prefix+'_'+key],col,7,key+'-line');
  }

  // y axis
  var dir=isRight?-1:1;
  var bottom=rowBottom[row];
  var ya=add(g,'line');
  
  
  ya.setAttribute('x1',yAxisX);
  ya.setAttribute('x2',yAxisX);
  ya.setAttribute('y1',rowTop[row]);
  ya.setAttribute('y2',bottom);
  ya.setAttribute('stroke','#000');
  ya.setAttribute('stroke-width','2');
  for(var j=0;j<yMajorTicks.length;j++){
    var ty=add(g,'line');
    
    
    ty.setAttribute('x1',yAxisX);
    ty.setAttribute('x2',yAxisX+dir*27);
    ty.setAttribute('y1',yScale(row,yMajorTicks[j]));
    ty.setAttribute('y2',yScale(row,yMajorTicks[j]));
    ty.setAttribute('stroke','#000');
    ty.setAttribute('stroke-width','2.5');
  }
  for(var k=0;k<yMinorTicks.length;k++){
    var tm=add(g,'line');
    
    
    tm.setAttribute('x1',yAxisX);
    tm.setAttribute('x2',yAxisX+dir*13);
    tm.setAttribute('y1',yScale(row,yMinorTicks[k]));
    tm.setAttribute('y2',yScale(row,yMinorTicks[k]));
    tm.setAttribute('stroke','#000');
    tm.setAttribute('stroke-width','2.5');
  }
  for(var q=0;q<yTickLabels.length;q++){
    var lp=q<yMajorTicks.length?yScale(row,yMajorTicks[q]):bottom-9;
    var tl=add(g,'text');
    
    
    tl.setAttribute('x',isRight?yAxisX+8:yAxisX-9);
    tl.setAttribute('y',lp+10);
    tl.setAttribute('text-anchor',isRight?'start':'end');
    tl.setAttribute('font-size','28.5');
    tl.textContent=yTickLabels[q];
  }
  // x axis
  var xa=add(g,'rect');
  
  
  xa.setAttribute('x',left-1);
  xa.setAttribute('width',right-left+2);
  xa.setAttribute('y',bottom-2.5);
  xa.setAttribute('height','5');
  xa.setAttribute('fill','#000');
  for(var n=0;n<xTickValues.length;n++){
    var px=xScaleLog(left,Math.log10(xTickValues[n]));
    var xt=add(g,'rect');
    
    
    xt.setAttribute('x',px-1.75);
    xt.setAttribute('width','3.5');
    xt.setAttribute('y',bottom-8);
    xt.setAttribute('height','6');
    xt.setAttribute('fill','#000');
    var xl=add(g,'text');
    
    
    xl.setAttribute('x',px-1.5);
    xl.setAttribute('y',bottom+36);
    xl.setAttribute('text-anchor','middle');
    xl.setAttribute('font-size','28.5');
    xl.textContent=xTickLabels[n];
  }
  if(!isRight){
    var cy=(rowTop[row]+bottom)/2-29;
    if(row===4)cy=1729;
    var yt=add(g,'text');
    
    
    yt.setAttribute('transform','translate(36,'+cy+') rotate(-90)');
    yt.setAttribute('text-anchor','middle');
    yt.setAttribute('font-size','49');
    yt.textContent='Pressure (mb)';
  }
}
for(var r=0;r<5;r++){
  drawPanel('pac'+(r+1),r,151,false);
  drawPanel('atl'+(r+1),r,1124,true);
}
</script>
</body>
</html>
